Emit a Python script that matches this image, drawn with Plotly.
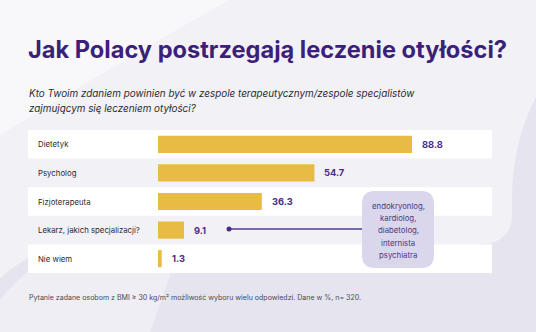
import plotly.graph_objects as go

W, H = 536, 332

categories = ["Dietetyk", "Psycholog", "Fizjoterapeuta", "Lekarz, jakich specjalizacji?", "Nie wiem"]
values = [88.8, 54.7, 36.3, 9.1, 1.3]
callout_lines = ["endokryonlog,", "kardiolog,", "diabetolog,", "internista", "psychiatra"]

title = "Jak Polacy postrzegają leczenie otyłości?"
subtitle = ["Kto Twoim zdaniem powinien być w zespole terapeutycznym/zespole specjalistów",
            "zajmującym się leczeniem otyłości?"]
footnote = "Pytanie zadane osobom z BMI ≥ 30 kg/m² możliwość wyboru wielu odpowiedzi. Dane w %, n= 320."

BAR = "#E8BC44"
PURPLE = "#3C1F78"
VAL = "#4B2C86"
FONT = "Inter"


def px(x):
    return x / W


def py(y):
    return 1 - y / H


def rounded(x0, y0, x1, y1, r):
    X0, X1 = px(x0), px(x1)
    Y0, Y1 = py(y0), py(y1)
    rx, ry = r / W, r / H
    return (f"M {X0+rx},{Y0} L {X1-rx},{Y0} Q {X1},{Y0} {X1},{Y0-ry} "
            f"L {X1},{Y1+ry} Q {X1},{Y1} {X1-rx},{Y1} L {X0+rx},{Y1} "
            f"Q {X0},{Y1} {X0},{Y1+ry} L {X0},{Y0-ry} Q {X0},{Y0} {X0+rx},{Y0} Z")


fig = go.Figure(go.Bar(
    x=values, y=categories, orientation="h",
    marker=dict(color=BAR, line=dict(width=0)),
    width=0.6, hoverinfo="skip",
))

shapes = []
# soft background blobs
shapes.append(dict(type="path", xref="paper", yref="paper", layer="below",
                   path=f"M {px(-40)},{py(-40)} L {px(560)},{py(-40)} L {px(560)},{py(60)} "
                        f"Q {px(512)},{py(120)} {px(512)},{py(200)} L {px(512)},{py(215)} "
                        f"Q {px(512)},{py(246)} {px(470)},{py(246)} L {px(60)},{py(246)} "
                        f"Q {px(0)},{py(260)} {px(-40)},{py(330)} Z",
                   fillcolor="rgba(255,255,255,0.45)", line=dict(width=0)))
shapes.append(dict(type="path", xref="paper", yref="paper", layer="below",
                   path=f"M {px(-40)},{py(-40)} L {px(300)},{py(-40)} "
                        f"Q {px(120)},{py(60)} {px(-40)},{py(160)} Z",
                   fillcolor="rgba(255,255,255,0.5)", line=dict(width=0)))
shapes.append(dict(type="path", xref="paper", yref="paper", layer="below",
                   path=f"M {px(0)},{py(300)} Q {px(30)},{py(262)} {px(60)},{py(258)} "
                        f"L {px(175)},{py(262)} L {px(150)},{py(332)} L {px(0)},{py(332)} Z",
                   fillcolor="rgba(255,255,255,0.35)", line=dict(width=0)))

# alternating white row bands
for i in range(0, len(categories), 2):
    shapes.append(dict(type="rect", xref="paper", yref="y", layer="below",
                       x0=px(28), x1=px(492), y0=i - 0.5, y1=i + 0.5,
                       fillcolor="white", line=dict(width=0)))

# connector from the "Lekarz" row to the callout
shapes.append(dict(type="line", xref="paper", yref="paper",
                   x0=px(229), x1=px(362), y0=py(229), y1=py(229),
                   line=dict(color="#7B68A9", width=2)))
shapes.append(dict(type="circle", xref="paper", yref="paper",
                   x0=px(226.5), x1=px(231.5), y0=py(226.5), y1=py(231.5),
                   fillcolor=VAL, line=dict(width=0)))
# callout box
shapes.append(dict(type="path", xref="paper", yref="paper",
                   path=rounded(362, 191, 434, 268, 13),
                   fillcolor="#DAD7EC", line=dict(width=0)))

annotations = []
annotations.append(dict(xref="paper", yref="paper", x=px(26), y=py(50), text=f"<b>{title}</b>",
                        showarrow=False, xanchor="left", yanchor="middle",
                        font=dict(family=FONT, size=23.6, color=PURPLE)))
for k, line in enumerate(subtitle):
    annotations.append(dict(xref="paper", yref="paper", x=px(27), y=py(93 + 15 * k),
                            text=f"<i>{line}</i>", showarrow=False, xanchor="left", yanchor="middle",
                            font=dict(family=FONT, size=9.9, color="#2B2B33")))
for cat in categories:
    annotations.append(dict(xref="paper", yref="y", x=px(36), y=cat, text=cat,
                            showarrow=False, xanchor="left", yanchor="middle",
                            font=dict(family=FONT, size=7.8, color="#2B2B33")))
for cat, v in zip(categories, values):
    annotations.append(dict(xref="x", yref="y", x=v, y=cat, text=f"<b>{v:.1f}</b>",
                            showarrow=False, xanchor="left", yanchor="middle", xshift=8,
                            font=dict(family=FONT, size=9.3, color=VAL)))
for k, line in enumerate(callout_lines):
    annotations.append(dict(xref="paper", yref="paper", x=px(398), y=py(206 + 12.2 * k),
                            text=line, showarrow=False, xanchor="center", yanchor="middle",
                            font=dict(family=FONT, size=7.8, color="#4A3A80")))
annotations.append(dict(xref="paper", yref="paper", x=px(27), y=py(297.5), text=footnote,
                        showarrow=False, xanchor="left", yanchor="middle",
                        font=dict(family=FONT, size=7.05, color="#4A4A55")))

scale = (412 - 158) / values[0]
fig.update_layout(
    width=W, height=H, margin=dict(l=0, r=0, t=0, b=0),
    paper_bgcolor="#E6E5EF", plot_bgcolor="rgba(0,0,0,0)",
    showlegend=False, bargap=0.4,
    xaxis=dict(domain=[px(158), px(492)], range=[0, (492 - 158) / scale],
               visible=False, fixedrange=True),
    yaxis=dict(domain=[py(273), py(130)], range=[len(categories) - 0.5, -0.5],
               visible=False, fixedrange=True, categoryorder="array", categoryarray=categories),
    shapes=shapes, annotations=annotations,
)

fig.write_html("out.html", config={"displayModeBar": False})
